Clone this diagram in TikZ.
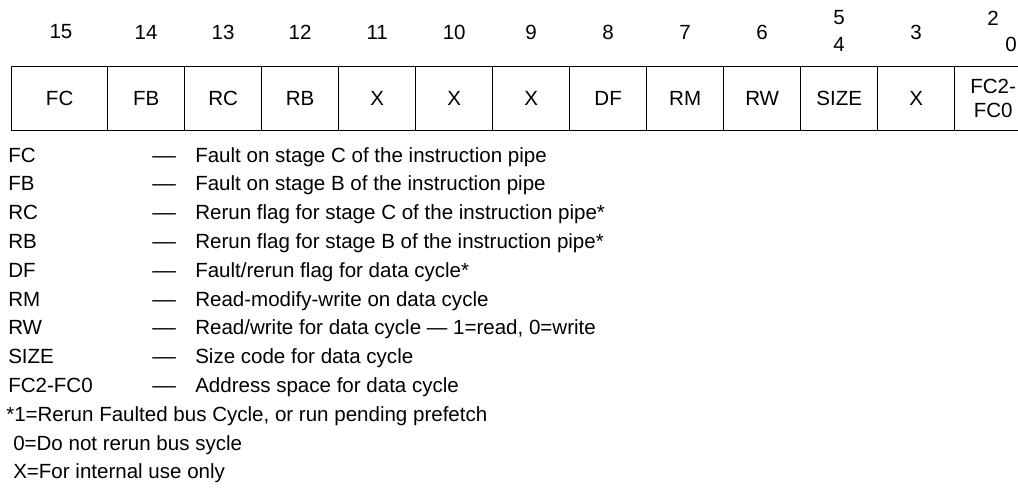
\documentclass[tikz,border=0pt]{standalone}
\usepackage{fontspec}
\setmainfont{Liberation Sans}
\begin{document}
\begin{tikzpicture}[x=0.75pt,y=-0.75pt,
  txt/.style={font=\fontsize{15.4}{18}\selectfont, inner sep=0pt},
  cell/.style={txt, draw, line width=1pt, minimum height=48pt, minimum width=57.75pt, anchor=north west, align=center},
  firstcell/.style={cell, minimum width=72pt},
  num/.style={txt, anchor=center},
  leg/.style={txt, anchor=base west}]
\clip (0,0) rectangle (1018,489);
\useasboundingbox (0,0) rectangle (1018,489);
% register cells
\node[firstcell] (c15) at (11,66) {FC};
\foreach \lab/\nm [count=\k from 0] in {FB/c14,RC/c13,RB/c12,X/c11,X/c10,X/c9,DF/c8,RM/c7,RW/c6,SIZE/c5,X/c3,{FC2-\\FC0}/c2}
  \node[cell] (\nm) at ({107+77*\k},66) {\lab};
% bit numbers
\node[num] (n15) at (61,32) {15};
\foreach \n/\nm [count=\k from 0] in {14/c14,13/c13,12/c12,11/c11,10/c10,9/c9,8/c8,7/c7,6/c6,3/c3}
  \node[num] (n\n) at (\nm.center |- 0,32) {\n};
\node[num] (n5) at (c5.center |- 0,18) {5};
\node[num] (n4) at (c5.center |- 0,44) {4};
\node[num] (n2) at (c2.center |- 0,18) {2};
\node[num] (n0) at (1011,44) {0};
% legend
\foreach \ab/\desc [count=\i from 0] in {
  FC/Fault on stage C of the instruction pipe,
  FB/Fault on stage B of the instruction pipe,
  RC/Rerun flag for stage C of the instruction pipe*,
  RB/Rerun flag for stage B of the instruction pipe*,
  DF/Fault\slash rerun flag for data cycle*,
  RM/Read-modify-write on data cycle,
  RW/{Read/write for data cycle — 1=read, 0=write},
  SIZE/Size code for data cycle,
  FC2-FC0/Address space for data cycle}
{
  \node[leg] (a\i) at (8,{162+28.8*\i}) {\ab};
  \node[leg] (d\i) at (152,{162+28.8*\i}) {\scalebox{1.15}[1]{—}};
  \node[leg] (t\i) at (195,{162+28.8*\i}) {\desc};
}
\node[leg] (f1) at (6,{162+28.8*9}) {*1=Rerun Faulted bus Cycle, or run pending prefetch};
\node[leg] (f2) at (13,{162+28.8*10}) {0=Do not rerun bus sycle};
\node[leg] (f3) at (13,{162+28.8*11}) {X=For internal use only};
\end{tikzpicture}
\end{document}
